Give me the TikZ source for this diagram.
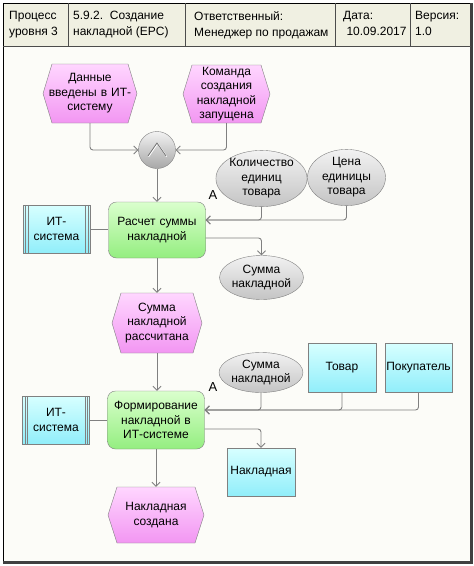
\documentclass[tikz,border=0pt]{standalone}
\usepackage{fontspec}
\setmainfont{Liberation Sans}
\usetikzlibrary{arrows.meta,shapes.geometric,calc}
\definecolor{hdrfill}{RGB}{240,240,226}
\definecolor{bodyfill}{RGB}{252,252,248}
\definecolor{linegray}{RGB}{128,128,128}
\definecolor{pinktop}{RGB}{255,214,255}
\definecolor{pinkbot}{RGB}{242,150,242}
\definecolor{greentop}{RGB}{218,255,205}
\definecolor{greenbot}{RGB}{148,238,128}
\definecolor{cyantop}{RGB}{215,255,255}
\definecolor{cyanbot}{RGB}{145,238,250}
\definecolor{graytop}{RGB}{242,242,242}
\definecolor{graybot}{RGB}{196,196,196}
% event: name, x, y, width, height, text
\newcommand\evtnode[6]{%
  \path[evtfill] ({#2-#4/2},#3) -- ({#2-#4/2+9},{#3-#5/2}) -- ({#2+#4/2-9},{#3-#5/2})
     -- ({#2+#4/2},#3) -- ({#2+#4/2-9},{#3+#5/2}) -- ({#2-#4/2+9},{#3+#5/2}) -- cycle;
  \node[evttext, minimum height=#5pt] (#1) at (#2,#3) {#6};}
\begin{document}
\begin{tikzpicture}[x=1pt,y=-1pt,
  font=\fontsize{12}{14.5}\selectfont,
  evtfill/.style={draw=linegray, top color=pinktop, bottom color=pinkbot},
  evttext/.style={inner sep=0pt, align=center, text width=92pt},
  fnbox/.style={draw=linegray, rounded corners=8pt, top color=greentop, bottom color=greenbot,
    minimum width=97pt, minimum height=56pt, inner sep=0pt, align=center, text width=90pt},
  databox/.style={draw=linegray, top color=graytop, bottom color=graybot, ellipse,
    minimum width=77pt, minimum height=44pt, inner sep=0pt, align=center},
  cyanbox/.style={draw=linegray, top color=cyantop, bottom color=cyanbot,
    minimum width=68pt, minimum height=49pt, inner sep=0pt, align=center},
  sysbox/.style={cyanbox, minimum width=67pt, minimum height=48pt},
  andnode/.style={circle, draw=linegray, top color=graytop, bottom color=graybot!85!black,
    minimum size=37pt, inner sep=0pt},
  conn/.style={draw=linegray, line width=0.9pt, rounded corners=3pt},
  arr/.style={conn, -{Straight Barb[length=4pt,width=8pt,line width=0.8pt]}},
  hdrtext/.style={anchor=north west, inner sep=0pt, align=left, font=\fontsize{12}{16}\selectfont},
  lbl/.style={inner sep=0pt, font=\fontsize{13}{15}\selectfont}
]
\useasboundingbox (0,0) rectangle (474,566);
% frame
\fill[white] (0,0) rectangle (474,566);
\fill[bodyfill] (3,3) rectangle (472,563);
\fill[hdrfill] (3,3) rectangle (472,46);
\draw[black, line width=0.8pt] (3,3) rectangle (471,562);
\draw[black!75, line width=2.2pt] (3,562.5) -- (471.5,562.5) -- (471.5,3);
\draw[black!70, line width=0.8pt] (3,46) -- (471,46);
\foreach \xx in {68,185,335,410} \draw[black!70, line width=0.8pt] (\xx,3) -- (\xx,46);
\node[hdrtext] (h1) at (9,11) {Процесс\\уровня 3};
\node[hdrtext] (h2) at (73,11) {5.9.2.\ \ Создание\\накладной (EPC)};
\node[hdrtext] (h3) at (194,11) {Ответственный:\\Менеджер по продажам};
\node[hdrtext] (h4) at (343,11) {Дата:\\\ 10.09.2017};
\node[hdrtext] (h5) at (415,11) {Версия:\\1.0};
% events
\evtnode{e1}{90}{93.5}{94}{59}{Данные\\введены в ИТ-\\систему}
\evtnode{e2}{226.5}{94}{87}{58}{Команда\\создания\\накладной\\запущена}
\evtnode{e3}{157}{323}{90}{60}{Сумма\\накладной\\рассчитана}
\evtnode{e4}{156}{515}{96}{56}{Накладная\\создана}
% and
\node[andnode] (and) at (157,150) {};
\draw[white, line width=1.2pt] ($(and.center)+(-8.4,6.6)$) -- ($(and.center)+(0.6,-6.4)$) -- ($(and.center)+(9.6,6.6)$);
\draw[black!55, line width=0.8pt] ($(and.center)+(-9,6)$) -- ($(and.center)+(0,-7)$) -- ($(and.center)+(9,6)$);
% functions
\node[fnbox] (f1) at (157,230) {Расчет суммы\\накладной};
\node[fnbox, minimum height=58pt] (f2) at (156,420) {Формирование\\накладной в\\ИТ-системе};
% systems
\node[sysbox] (it1) at (56.5,229) {ИТ-\\система};
\node[sysbox] (it2) at (56,420) {ИТ-\\система};
\foreach \nn in {it1,it2}{
  \draw[linegray] ([xshift=2.5pt]\nn.north west) -- ([xshift=2.5pt]\nn.south west);
  \draw[linegray] ([xshift=5pt]\nn.north west) -- ([xshift=5pt]\nn.south west);
  \draw[linegray] ([xshift=-2.5pt]\nn.north east) -- ([xshift=-2.5pt]\nn.south east);
  \draw[linegray] ([xshift=-5pt]\nn.north east) -- ([xshift=-5pt]\nn.south east);
}
% data
\node[databox] (q1) at (261.5,178.5) {Количество\\единиц\\товара};
\node[databox, minimum width=78pt, minimum height=48pt] (p1) at (346.5,177.5) {Цена\\единицы\\товара};
\node[databox, minimum height=44pt] (s1) at (261.5,277.5) {Сумма\\накладной};
\node[databox, minimum height=40pt] (s2) at (261,372.5) {Сумма\\накладной};
\node[cyanbox] (tov) at (342,367.5) {Товар};
\node[cyanbox, minimum width=67pt] (pok) at (418.5,367.5) {Покупатель};
\node[cyanbox, minimum height=48pt] (nak) at (261,472) {Накладная};
% labels
\node[lbl] (a1) at (213,195) {A};
\node[lbl] (a2) at (213,387) {A};
% connectors
\draw[arr] (e1.south) |- (and.west);
\draw[arr] (e2.south) |- (and.east);
\draw[arr] (and.south) -- (f1.north);
\draw[conn] (it1.east) -- (f1.west |- it1.east);
\draw[arr] (p1.south) |- ([yshift=10pt]f1.east);
\draw[arr] (q1.south) |- ([yshift=10pt]f1.east);
\draw[arr] ([yshift=-8pt]f1.east) -| (s1.north);
\draw[arr] (f1.south) -- (e3.north);
\draw[arr] (e3.south) -- (e3.south |- f2.north);
\draw[conn] (it2.east) -- (f2.west);
\draw[arr] (pok.south) |- ([yshift=10pt]f2.east);
\draw[arr] (tov.south) |- ([yshift=10pt]f2.east);
\draw[arr] (s2.south) |- ([yshift=10pt]f2.east);
\draw[arr] ([yshift=-9pt]f2.east) -| (nak.north);
\draw[arr] (f2.south) -- (f2.south |- e4.north);
\end{tikzpicture}
\end{document}
